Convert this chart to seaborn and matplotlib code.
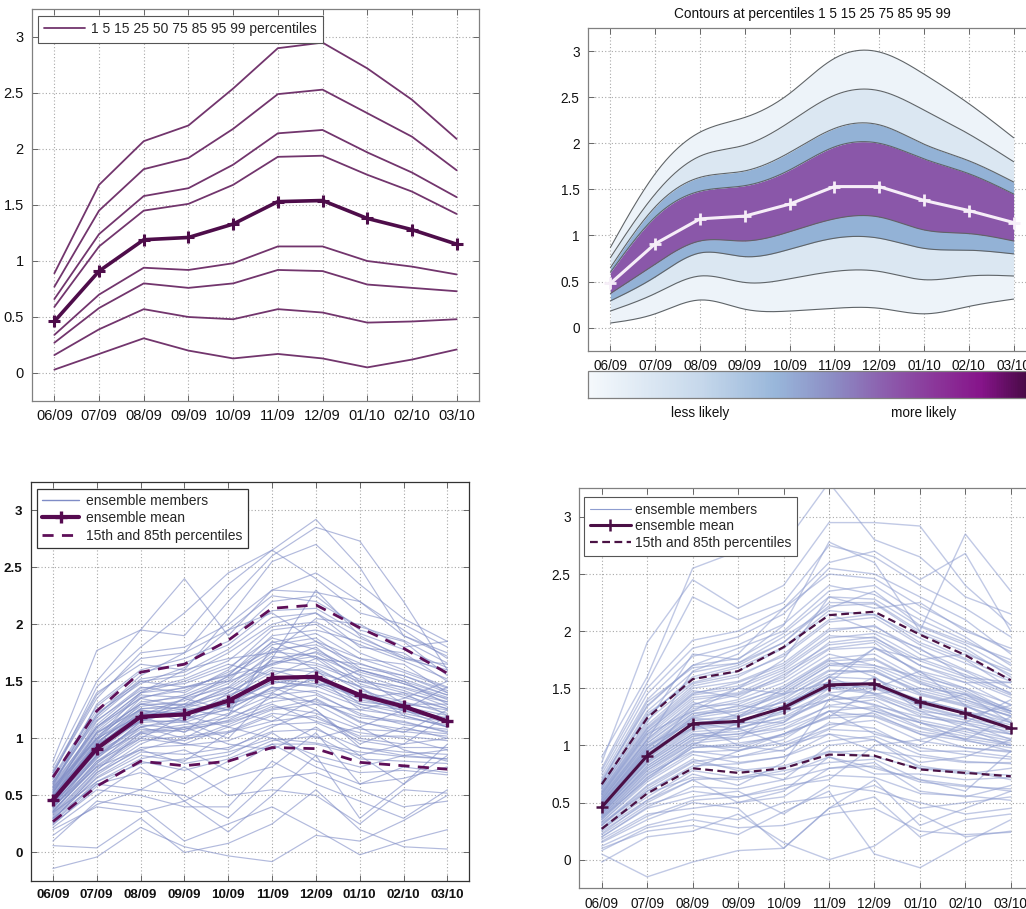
import numpy as np
import pandas as pd
import matplotlib
matplotlib.use("Agg")
import matplotlib.pyplot as plt
import seaborn as sns
from matplotlib.colors import LinearSegmentedColormap, Normalize
from matplotlib.lines import Line2D
import matplotlib.cm as cm

# ---------------- data ----------------
months = ["06/09", "07/09", "08/09", "09/09", "10/09", "11/09", "12/09", "01/10", "02/10", "03/10"]
ytick_vals = [0, 0.5, 1, 1.5, 2, 2.5, 3]
ytick_labels = ["0", "0.5", "1", "1.5", "2", "2.5", "3"]

# percentile curves (top-left panel, also used for dashed lines / mean below)
p01 = [0.03, 0.17, 0.31, 0.20, 0.13, 0.17, 0.13, 0.05, 0.12, 0.21]
p05 = [0.16, 0.39, 0.57, 0.50, 0.48, 0.57, 0.54, 0.45, 0.46, 0.48]
p15 = [0.27, 0.58, 0.80, 0.76, 0.80, 0.92, 0.91, 0.79, 0.76, 0.73]
p25 = [0.34, 0.70, 0.94, 0.92, 0.98, 1.13, 1.13, 1.00, 0.95, 0.88]
p75 = [0.59, 1.13, 1.45, 1.51, 1.68, 1.93, 1.94, 1.77, 1.62, 1.42]
p85 = [0.66, 1.24, 1.58, 1.65, 1.86, 2.14, 2.17, 1.97, 1.79, 1.57]
p95 = [0.77, 1.45, 1.82, 1.92, 2.18, 2.49, 2.53, 2.32, 2.11, 1.81]
p99 = [0.89, 1.68, 2.07, 2.21, 2.54, 2.90, 2.95, 2.72, 2.44, 2.09]
ens_mean = [0.46, 0.91, 1.19, 1.21, 1.33, 1.53, 1.54, 1.38, 1.28, 1.15]
tl_label = "1 5 15 25 50 75 85 95 99 percentiles"

# contour values (top-right panel)
c01 = [0.05, 0.15, 0.30, 0.20, 0.18, 0.21, 0.21, 0.15, 0.23, 0.31]
c05 = [0.18, 0.37, 0.56, 0.49, 0.53, 0.61, 0.61, 0.52, 0.56, 0.56]
c15 = [0.29, 0.55, 0.81, 0.77, 0.85, 0.97, 0.97, 0.86, 0.84, 0.80]
c25 = [0.37, 0.69, 0.94, 0.94, 1.04, 1.18, 1.20, 1.06, 1.02, 0.94]
c75 = [0.60, 1.20, 1.48, 1.54, 1.71, 1.96, 2.00, 1.83, 1.67, 1.45]
c85 = [0.65, 1.31, 1.63, 1.70, 1.90, 2.16, 2.20, 1.99, 1.81, 1.58]
c95 = [0.76, 1.45, 1.86, 1.98, 2.23, 2.52, 2.57, 2.36, 2.10, 1.80]
c99 = [0.87, 1.67, 2.12, 2.28, 2.54, 2.92, 2.99, 2.75, 2.43, 2.06]
c_mean = [0.48, 0.91, 1.18, 1.21, 1.34, 1.53, 1.53, 1.38, 1.27, 1.14]
tr_title = "Contours at percentiles 1 5 15 25 75 85 95 99"
cbar_labels = ["less likely", "more likely"]

# ensemble members, bottom-left panel
members_bl = [
    [-0.14, -0.04, 0.22, 0.05, -0.03, -0.08, 0.15, 0.10, 0.28, 0.50],
    [0.06, 0.04, 0.30, 0.00, 0.08, 0.25, 0.55, 0.20, 0.05, 0.03],
    [0.10, 0.45, 0.40, 0.10, 0.25, 0.40, 0.20, -0.02, 0.10, 0.20],
    [0.20, 0.40, 0.35, 0.45, 0.18, 0.50, 0.85, 0.30, 0.60, 0.85],
    [0.25, 0.55, 0.50, 0.40, 0.40, 0.80, 0.60, 0.45, 0.30, 0.55],
    [0.30, 0.60, 0.55, 0.75, 0.50, 0.55, 0.50, 0.25, 0.55, 0.52],
    [0.22, 0.50, 0.75, 0.45, 0.65, 0.75, 1.05, 0.60, 0.75, 0.70],
    [0.35, 0.62, 0.82, 0.90, 0.72, 0.95, 0.95, 0.85, 0.60, 0.95],
    [0.28, 0.70, 0.90, 0.78, 0.85, 1.05, 0.80, 0.70, 0.72, 0.68],
    [0.40, 0.75, 1.00, 0.95, 0.90, 1.10, 1.25, 0.92, 0.85, 0.82],
    [0.38, 0.85, 1.05, 1.10, 1.15, 1.30, 1.15, 1.05, 1.00, 0.90],
    [0.45, 0.88, 1.10, 1.00, 1.20, 1.45, 1.40, 1.20, 1.15, 1.05],
    [0.50, 0.92, 1.15, 1.25, 1.30, 1.40, 1.60, 1.45, 1.25, 1.10],
    [0.42, 0.95, 1.25, 1.15, 1.40, 1.60, 1.50, 1.35, 1.40, 1.20],
    [0.55, 1.00, 1.20, 1.35, 1.25, 1.70, 1.75, 1.55, 1.30, 1.25],
    [0.48, 1.05, 1.30, 1.30, 1.55, 1.65, 1.80, 1.50, 1.45, 1.35],
    [0.60, 1.10, 1.35, 1.45, 1.50, 1.85, 1.70, 1.65, 1.55, 1.40],
    [0.52, 1.15, 1.45, 1.40, 1.60, 1.95, 2.00, 1.75, 1.60, 1.45],
    [0.65, 1.25, 1.50, 1.55, 1.75, 2.00, 2.10, 1.80, 1.75, 1.50],
    [0.58, 1.30, 1.60, 1.70, 1.85, 2.20, 2.25, 1.95, 1.85, 1.55],
    [0.70, 1.35, 1.75, 1.80, 2.00, 2.30, 2.28, 2.20, 1.95, 1.70],
    [0.75, 1.50, 1.95, 1.90, 2.35, 2.65, 2.40, 2.10, 2.00, 1.80],
    [0.80, 1.77, 1.95, 2.40, 1.90, 2.30, 2.45, 2.20, 1.90, 1.75],
    [0.68, 1.45, 1.80, 2.10, 2.45, 2.65, 2.92, 2.50, 1.90, 1.72],
    [0.62, 1.20, 1.55, 1.75, 2.20, 2.60, 2.85, 2.73, 2.20, 1.60],
    [0.55, 1.10, 1.40, 1.60, 2.05, 2.55, 2.70, 2.35, 2.05, 1.85],
    [0.44, 0.90, 1.20, 1.05, 1.35, 1.70, 2.30, 1.90, 1.70, 1.65],
    [0.36, 0.80, 1.00, 1.20, 1.10, 1.25, 1.30, 1.10, 1.25, 1.45],
    [0.32, 0.70, 0.95, 1.10, 0.95, 0.90, 1.10, 0.85, 0.95, 1.20],
    [0.30, 0.65, 0.85, 0.80, 1.05, 1.20, 1.00, 1.10, 0.90, 0.80],
    [0.40, 0.78, 1.10, 1.15, 1.00, 1.40, 1.25, 0.95, 1.10, 1.00],
    [0.47, 0.95, 1.15, 1.35, 1.45, 1.35, 1.55, 1.25, 1.35, 1.50],
    [0.53, 1.05, 1.25, 1.20, 1.30, 1.50, 1.45, 1.60, 1.50, 1.30],
    [0.57, 1.00, 1.40, 1.50, 1.65, 1.55, 1.70, 1.45, 1.20, 1.10],
    [0.50, 0.95, 1.30, 1.25, 1.20, 1.80, 1.60, 1.30, 1.25, 1.15],
    [0.26, 0.60, 0.70, 0.60, 0.80, 0.95, 0.75, 0.60, 0.65, 0.75],
    [0.15, 0.42, 0.55, 0.50, 0.30, 0.65, 0.70, 0.55, 0.40, 0.45],
    [0.33, 0.72, 1.05, 0.95, 1.10, 1.00, 0.85, 0.75, 0.85, 0.90],
    [0.43, 0.82, 1.15, 1.30, 1.25, 1.15, 1.35, 1.15, 1.05, 1.25],
    [0.49, 0.98, 1.35, 1.28, 1.45, 1.75, 1.85, 1.70, 1.65, 1.40],
    [0.60, 1.18, 1.50, 1.45, 1.55, 1.90, 1.95, 1.85, 1.70, 1.60],
    [0.72, 1.40, 1.65, 1.60, 1.70, 1.75, 2.05, 2.00, 1.80, 1.85],
    [0.64, 1.22, 1.48, 1.62, 1.95, 2.10, 1.85, 1.60, 1.50, 1.38],
    [0.37, 0.75, 0.90, 1.00, 1.05, 1.15, 1.20, 1.00, 0.95, 1.00],
    [0.45, 0.85, 1.10, 1.18, 1.25, 1.45, 1.30, 1.25, 1.20, 1.10],
    [0.41, 0.86, 1.12, 1.08, 1.22, 1.38, 1.42, 1.28, 1.18, 1.12],
    [0.46, 0.93, 1.22, 1.20, 1.36, 1.58, 1.62, 1.42, 1.32, 1.22],
    [0.51, 1.02, 1.28, 1.33, 1.48, 1.72, 1.66, 1.52, 1.42, 1.28],
    [0.39, 0.80, 1.06, 1.12, 1.18, 1.32, 1.38, 1.22, 1.12, 1.08],
    [0.56, 1.08, 1.38, 1.36, 1.52, 1.82, 1.88, 1.62, 1.55, 1.42],
    [0.34, 0.73, 0.98, 1.02, 1.06, 1.22, 1.18, 1.02, 1.02, 0.98],
    [0.62, 1.16, 1.42, 1.52, 1.68, 1.98, 2.02, 1.82, 1.68, 1.52],
    [0.29, 0.66, 0.88, 0.86, 0.92, 1.06, 1.08, 0.92, 0.88, 0.86],
    [0.44, 0.90, 1.18, 1.24, 1.32, 1.48, 1.55, 1.34, 1.26, 1.18],
    [0.53, 0.99, 1.26, 1.27, 1.42, 1.66, 1.72, 1.48, 1.36, 1.26],
    [0.48, 0.94, 1.20, 1.26, 1.38, 1.52, 1.48, 1.40, 1.30, 1.30],
    [0.58, 1.12, 1.44, 1.48, 1.62, 1.88, 1.78, 1.58, 1.48, 1.34],
    [0.36, 0.76, 1.02, 0.98, 1.12, 1.28, 1.22, 1.08, 1.06, 1.02],
    [0.42, 0.84, 1.14, 1.16, 1.28, 1.50, 1.46, 1.30, 1.22, 1.14],
    [0.66, 1.28, 1.58, 1.66, 1.82, 2.12, 2.14, 1.92, 1.78, 1.62],
    [0.24, 0.58, 0.80, 0.72, 0.82, 0.98, 1.02, 0.82, 0.80, 0.78],
    [0.50, 1.00, 1.32, 1.36, 1.50, 1.64, 1.76, 1.60, 1.48, 1.36],
    [0.45, 0.92, 1.24, 1.22, 1.30, 1.42, 1.52, 1.36, 1.24, 1.16],
    [0.61, 1.20, 1.52, 1.58, 1.78, 2.06, 2.10, 1.88, 1.72, 1.58],
    [0.31, 0.68, 0.92, 0.94, 0.98, 1.12, 1.14, 0.98, 0.92, 0.92],
    [0.54, 1.06, 1.36, 1.42, 1.58, 1.78, 1.82, 1.66, 1.52, 1.38],
    [0.40, 0.83, 1.08, 1.06, 1.16, 1.36, 1.32, 1.18, 1.14, 1.06],
    [0.47, 0.96, 1.26, 1.30, 1.40, 1.62, 1.58, 1.46, 1.38, 1.26],
    [0.70, 1.38, 1.70, 1.75, 1.95, 2.25, 2.20, 1.98, 1.86, 1.66],
    [0.27, 0.62, 0.78, 0.82, 0.88, 1.00, 0.96, 0.88, 0.84, 0.82],
    [0.52, 1.04, 1.30, 1.38, 1.54, 1.76, 1.72, 1.56, 1.44, 1.32],
    [0.43, 0.88, 1.16, 1.14, 1.26, 1.44, 1.48, 1.32, 1.28, 1.20],
    [0.57, 1.10, 1.40, 1.44, 1.56, 1.84, 1.92, 1.70, 1.58, 1.44],
    [0.35, 0.78, 1.04, 1.08, 1.14, 1.26, 1.34, 1.14, 1.08, 1.04],
    [0.49, 0.97, 1.22, 1.28, 1.44, 1.68, 1.64, 1.50, 1.40, 1.32],
]

# ensemble members, bottom-right panel
members_br = [
    [0.05, -0.15, -0.02, 0.08, 0.10, 0.45, 0.55, 0.20, 0.35, 0.40],
    [-0.02, 0.20, 0.25, 0.40, 0.15, 0.00, 0.12, 0.40, 0.20, 0.25],
    [0.10, 0.25, 0.30, 0.22, 0.42, 0.60, 0.05, -0.07, 0.15, 0.35],
    [0.15, 0.35, 0.50, 0.45, 0.10, 0.45, 0.70, 0.30, 0.45, 0.60],
    [0.20, 0.45, 0.55, 0.60, 0.40, 0.65, 0.60, 0.50, 0.40, 0.45],
    [0.25, 0.50, 0.70, 0.50, 0.55, 0.80, 0.85, 0.60, 0.55, 0.65],
    [0.28, 0.55, 0.78, 0.72, 0.75, 0.90, 0.75, 0.75, 0.70, 0.72],
    [0.30, 0.62, 0.85, 0.80, 0.70, 1.00, 1.05, 0.80, 0.75, 0.80],
    [0.33, 0.68, 0.92, 0.85, 0.90, 1.10, 0.95, 0.90, 0.85, 0.85],
    [0.35, 0.72, 0.98, 1.00, 0.95, 1.20, 1.15, 0.95, 0.95, 0.90],
    [0.38, 0.78, 1.02, 0.95, 1.05, 1.30, 1.25, 1.10, 0.98, 0.95],
    [0.40, 0.82, 1.08, 1.10, 1.15, 1.35, 1.40, 1.20, 1.10, 1.00],
    [0.42, 0.86, 1.12, 1.15, 1.25, 1.45, 1.35, 1.25, 1.20, 1.05],
    [0.44, 0.88, 1.15, 1.20, 1.20, 1.50, 1.55, 1.35, 1.25, 1.10],
    [0.46, 0.92, 1.18, 1.25, 1.35, 1.55, 1.50, 1.40, 1.30, 1.15],
    [0.48, 0.95, 1.22, 1.18, 1.40, 1.65, 1.65, 1.45, 1.35, 1.20],
    [0.50, 0.98, 1.28, 1.30, 1.45, 1.70, 1.75, 1.55, 1.40, 1.25],
    [0.52, 1.02, 1.32, 1.40, 1.55, 1.80, 1.70, 1.60, 1.50, 1.30],
    [0.55, 1.08, 1.40, 1.45, 1.60, 1.90, 1.95, 1.70, 1.55, 1.35],
    [0.58, 1.12, 1.45, 1.55, 1.70, 2.00, 2.05, 1.80, 1.65, 1.45],
    [0.60, 1.18, 1.52, 1.60, 1.80, 2.10, 2.15, 1.90, 1.75, 1.50],
    [0.65, 1.25, 1.60, 1.70, 1.90, 2.25, 2.25, 2.00, 1.85, 1.60],
    [0.70, 1.35, 1.70, 1.85, 2.00, 2.35, 2.40, 2.15, 1.95, 1.70],
    [0.75, 1.45, 1.85, 1.95, 2.15, 2.55, 2.50, 2.30, 2.10, 1.80],
    [0.80, 1.55, 2.30, 2.10, 2.25, 2.75, 2.65, 2.40, 2.20, 1.95],
    [0.85, 1.90, 2.45, 2.20, 2.40, 2.95, 2.95, 2.92, 2.40, 2.05],
    [0.90, 1.60, 2.55, 2.70, 2.75, 3.30, 2.80, 2.65, 2.30, 2.15],
    [0.62, 1.20, 1.80, 1.75, 2.05, 2.78, 2.60, 2.00, 2.85, 2.35],
    [0.55, 1.05, 1.65, 1.80, 2.20, 2.60, 2.70, 2.45, 2.68, 2.00],
    [0.45, 0.90, 1.35, 1.50, 1.75, 2.30, 2.20, 2.25, 2.00, 1.85],
    [0.37, 0.70, 1.00, 1.20, 1.30, 1.60, 1.85, 1.75, 1.80, 1.65],
    [0.32, 0.60, 0.80, 0.95, 1.10, 1.25, 1.50, 1.65, 1.55, 1.55],
    [0.27, 0.52, 0.75, 0.65, 0.85, 1.40, 1.30, 1.20, 1.05, 1.25],
    [0.22, 0.48, 0.60, 0.55, 0.65, 0.70, 1.00, 1.05, 1.15, 1.10],
    [0.18, 0.40, 0.45, 0.50, 0.60, 0.90, 0.80, 0.70, 0.60, 0.95],
    [0.12, 0.30, 0.40, 0.35, 0.50, 0.55, 0.65, 0.45, 0.50, 0.55],
    [0.08, 0.28, 0.35, 0.28, 0.30, 0.40, 0.45, 0.25, 0.22, 0.24],
    [0.50, 1.00, 1.20, 1.00, 1.10, 1.30, 1.10, 1.00, 1.20, 1.40],
    [0.47, 0.94, 1.25, 1.35, 1.30, 1.40, 1.60, 1.30, 1.15, 1.00],
    [0.43, 0.85, 1.10, 1.05, 1.35, 1.60, 1.45, 1.50, 1.45, 1.30],
    [0.53, 1.05, 1.38, 1.25, 1.50, 1.75, 1.60, 1.35, 1.45, 1.20],
    [0.57, 1.10, 1.30, 1.50, 1.45, 1.55, 1.85, 1.65, 1.35, 1.15],
    [0.41, 0.80, 1.05, 1.15, 1.00, 1.15, 1.30, 1.15, 1.05, 0.95],
    [0.36, 0.75, 0.95, 0.90, 1.00, 1.10, 1.05, 0.85, 0.90, 1.05],
    [0.49, 0.96, 1.15, 1.28, 1.38, 1.50, 1.45, 1.30, 1.25, 1.35],
    [0.63, 1.28, 1.55, 1.65, 1.85, 2.15, 2.00, 1.85, 1.60, 1.55],
    [0.68, 1.38, 1.68, 1.72, 1.95, 2.20, 2.35, 2.05, 1.90, 1.75],
    [0.31, 0.65, 0.88, 0.78, 0.82, 0.95, 0.90, 0.80, 0.78, 0.70],
    [0.26, 0.58, 0.72, 0.70, 0.78, 0.85, 0.88, 0.70, 0.65, 0.60],
    [0.59, 1.15, 1.48, 1.42, 1.62, 1.85, 1.90, 1.62, 1.48, 1.28],
    [0.42, 0.84, 1.10, 1.12, 1.22, 1.40, 1.44, 1.26, 1.18, 1.10],
    [0.47, 0.95, 1.22, 1.26, 1.38, 1.60, 1.58, 1.44, 1.34, 1.22],
    [0.52, 1.04, 1.34, 1.36, 1.52, 1.76, 1.80, 1.58, 1.46, 1.32],
    [0.38, 0.76, 1.02, 1.06, 1.14, 1.30, 1.34, 1.16, 1.08, 1.02],
    [0.57, 1.12, 1.44, 1.50, 1.66, 1.94, 1.98, 1.76, 1.62, 1.46],
    [0.33, 0.70, 0.94, 0.96, 1.02, 1.18, 1.22, 1.04, 0.98, 0.94],
    [0.62, 1.22, 1.54, 1.62, 1.78, 2.08, 2.12, 1.88, 1.72, 1.56],
    [0.28, 0.60, 0.82, 0.84, 0.90, 1.04, 1.08, 0.92, 0.86, 0.84],
    [0.45, 0.90, 1.16, 1.22, 1.32, 1.50, 1.52, 1.36, 1.28, 1.18],
    [0.54, 1.06, 1.36, 1.44, 1.58, 1.84, 1.86, 1.64, 1.50, 1.36],
    [0.40, 0.80, 1.06, 1.10, 1.20, 1.44, 1.36, 1.22, 1.14, 1.06],
    [0.50, 0.98, 1.26, 1.32, 1.46, 1.70, 1.68, 1.50, 1.40, 1.28],
    [0.66, 1.30, 1.64, 1.72, 1.90, 2.22, 2.24, 1.98, 1.82, 1.62],
    [0.23, 0.52, 0.70, 0.72, 0.80, 0.94, 0.96, 0.82, 0.76, 0.74],
    [0.44, 0.88, 1.20, 1.14, 1.30, 1.52, 1.46, 1.32, 1.22, 1.14],
    [0.48, 0.93, 1.18, 1.24, 1.42, 1.62, 1.66, 1.46, 1.36, 1.26],
    [0.60, 1.16, 1.50, 1.56, 1.72, 2.02, 2.04, 1.84, 1.66, 1.50],
    [0.35, 0.72, 0.98, 1.02, 1.08, 1.26, 1.28, 1.10, 1.04, 0.98],
    [0.72, 1.40, 1.78, 1.88, 2.06, 2.40, 2.32, 2.10, 1.92, 1.72],
    [0.30, 0.64, 0.86, 0.90, 0.96, 1.14, 1.12, 0.98, 0.92, 0.88],
    [0.53, 1.02, 1.30, 1.38, 1.50, 1.74, 1.76, 1.56, 1.44, 1.30],
    [0.41, 0.82, 1.08, 1.16, 1.24, 1.40, 1.42, 1.28, 1.20, 1.12],
    [0.46, 0.91, 1.24, 1.20, 1.34, 1.56, 1.54, 1.40, 1.30, 1.20],
    [0.56, 1.10, 1.42, 1.46, 1.64, 1.88, 1.92, 1.70, 1.58, 1.42],
    [0.20, 0.46, 0.64, 0.62, 0.70, 0.80, 0.82, 0.68, 0.64, 0.62],
    [0.64, 1.26, 1.58, 1.68, 1.86, 2.18, 2.14, 1.94, 1.76, 1.58],
    [0.37, 0.74, 1.00, 0.98, 1.10, 1.24, 1.26, 1.12, 1.06, 1.00],
    [0.51, 1.00, 1.28, 1.34, 1.48, 1.72, 1.70, 1.54, 1.42, 1.30],
    [0.43, 0.86, 1.14, 1.18, 1.28, 1.46, 1.50, 1.34, 1.24, 1.16],
    [0.78, 1.50, 1.92, 2.00, 2.20, 2.50, 2.46, 2.22, 2.02, 1.82],
    [0.16, 0.38, 0.52, 0.55, 0.62, 0.74, 0.72, 0.58, 0.56, 0.52],
    [0.58, 1.14, 1.46, 1.52, 1.68, 1.96, 1.94, 1.74, 1.60, 1.44],
    [0.39, 0.78, 1.04, 1.08, 1.18, 1.34, 1.32, 1.20, 1.12, 1.04],
    [0.49, 0.97, 1.24, 1.30, 1.44, 1.66, 1.64, 1.48, 1.38, 1.26],
    [0.68, 1.34, 1.70, 1.76, 1.98, 2.30, 2.28, 2.04, 1.88, 1.66],
]
legend_bottom = ["ensemble members", "ensemble mean", "15th and 85th percentiles"]

# ---------------- style ----------------
sns.set_theme(style="white")
plt.rcParams["font.family"] = ["Liberation Sans", "DejaVu Sans"]

W, H = 1026, 909
fig = plt.figure(figsize=(W / 100, H / 100), dpi=100)
fig.patch.set_facecolor("white")


def px_axes(left, top, right, bottom):
    return fig.add_axes([left / W, 1 - bottom / H, (right - left) / W, (bottom - top) / H])


def style_ax(ax, fs, bold=False):
    fw = "bold" if bold else "normal"
    ax.set_xlim(-0.5, 9.5)
    ax.set_ylim(-0.25, 3.25)
    ax.set_xticks(range(len(months)))
    ax.set_xticklabels(months, fontsize=fs, fontweight=fw)
    ax.set_yticks(ytick_vals)
    ax.set_yticklabels(ytick_labels, fontsize=fs, fontweight=fw)
    ax.grid(True, linestyle=(0, (1, 2)), color="#a8a8a8", linewidth=0.8)
    ax.set_axisbelow(True)
    ax.tick_params(direction="in", bottom=True, left=True, top=True, right=True,
                   length=4, width=0.7, color="#666666", labelcolor="#111111", pad=6)
    for s in ax.spines.values():
        s.set_color("#808080")
        s.set_linewidth(0.9)
    ax.set_xlabel("")
    ax.set_ylabel("")


def long_df(series_list, names):
    rows = []
    for name, vals in zip(names, series_list):
        for i, v in enumerate(vals):
            rows.append({"t": i, "v": v, "id": name})
    return pd.DataFrame(rows)


def natural_spline(y, n=300):
    y = np.asarray(y, dtype=float)
    k = len(y)
    A = np.zeros((k, k))
    b = np.zeros(k)
    A[0, 0] = 1
    A[-1, -1] = 1
    for i in range(1, k - 1):
        A[i, i - 1] = 1
        A[i, i] = 4
        A[i, i + 1] = 1
        b[i] = 6 * (y[i + 1] - 2 * y[i] + y[i - 1])
    M = np.linalg.solve(A, b)
    xs = np.linspace(0, k - 1, n)
    seg = np.clip(np.floor(xs).astype(int), 0, k - 2)
    t = xs - seg
    ys = ((1 - t) * y[seg] + t * y[seg + 1]
          + ((1 - t) ** 3 - (1 - t)) * M[seg] / 6 + (t ** 3 - t) * M[seg + 1] / 6)
    return xs, ys


idx = np.arange(len(months))

# ---------------- top-left ----------------
ax1 = px_axes(32, 9, 479, 401)
pct_series = [p01, p05, p15, p25, p75, p85, p95, p99]
df_tl = long_df(pct_series, ["p01", "p05", "p15", "p25", "p75", "p85", "p95", "p99"])
line_col = "#72356d"
sns.lineplot(data=df_tl, x="t", y="v", units="id", estimator=None, color=line_col,
             lw=1.3, ax=ax1, legend=False)
sns.lineplot(x=idx, y=ens_mean, color="#4e0d4a", lw=2.6, marker="+", markersize=9,
             markeredgewidth=2.2, markeredgecolor="#4e0d4a", ax=ax1, legend=False)
style_ax(ax1, 10.5)
ax1.legend(handles=[Line2D([], [], color=line_col, lw=1.3)], labels=[tl_label],
           loc="upper left", bbox_to_anchor=(6 / 447, 1 - 7 / 392), borderaxespad=0,
           fontsize=10, frameon=True, fancybox=False, edgecolor="#555555", framealpha=1,
           handlelength=2.9, handletextpad=0.5, borderpad=0.45)
ax1.get_legend().get_frame().set_linewidth(0.8)

# ---------------- top-right ----------------
ax2 = px_axes(588, 28, 1036, 350.7)
band_sets = [c01, c05, c15, c25, c75, c85, c95, c99]
smooth = [natural_spline(s) for s in band_sets]
band_colors = ["#edf3f9", "#dbe7f2", "#93b2d6", "#8a57a9", "#93b2d6", "#dbe7f2", "#edf3f9"]
for j in range(len(smooth) - 1):
    ax2.fill_between(smooth[j][0], smooth[j][1], smooth[j + 1][1],
                     color=band_colors[j], linewidth=0, zorder=2)
df_tr = pd.DataFrame([{"t": x, "v": v, "id": k}
                      for k, (xs, ys) in enumerate(smooth) for x, v in zip(xs, ys)])
sns.lineplot(data=df_tr, x="t", y="v", units="id", estimator=None, color="#5f6468",
             lw=0.8, ax=ax2, legend=False, zorder=3)
sns.lineplot(x=idx, y=c_mean, color="#f6eef8", lw=2.2, marker="+", markersize=8,
             markeredgewidth=2, markeredgecolor="#f6eef8", ax=ax2, legend=False, zorder=4)
style_ax(ax2, 9.8)
ax2.set_title(tr_title, fontsize=9.8, pad=7, color="#111111")

cax = px_axes(588, 371, 1036, 397.7)
cmap = LinearSegmentedColormap.from_list(
    "likely", [(0.0, "#f5f9fc"), (0.25, "#c6d8eb"), (0.42, "#98b6da"), (0.55, "#8c8cc4"),
               (0.66, "#8c5fae"), (0.78, "#8b3599"), (0.88, "#86148a"), (1.0, "#3c0838")])
cb = fig.colorbar(cm.ScalarMappable(norm=Normalize(0, 1), cmap=cmap), cax=cax,
                  orientation="horizontal")
cb.set_ticks([0.25, 0.75])
cb.set_ticklabels(cbar_labels)
cax.tick_params(direction="in", length=4, width=0.7, color="#666666", labelsize=9.8,
                labelcolor="#111111", pad=6, top=True, bottom=True)
cb.outline.set_edgecolor("#808080")
cb.outline.set_linewidth(0.9)

# ---------------- bottom-left ----------------
ax3 = px_axes(31, 481.7, 469.3, 881)
mem_col_bl = "#7f8cc6"
df_bl = long_df(members_bl, list(range(len(members_bl))))
sns.lineplot(data=df_bl, x="t", y="v", units="id", estimator=None, color=mem_col_bl,
             lw=0.85, alpha=0.6, ax=ax3, legend=False)
dash_col = "#5e0f58"
sns.lineplot(x=idx, y=p85, color=dash_col, lw=2.0, ax=ax3, legend=False)
sns.lineplot(x=idx, y=p15, color=dash_col, lw=2.0, ax=ax3, legend=False)
for ln in ax3.get_lines()[-2:]:
    ln.set_dashes((4, 3))
sns.lineplot(x=idx, y=ens_mean, color="#560a50", lw=3.0, marker="+", markersize=9,
             markeredgewidth=2.4, markeredgecolor="#560a50", ax=ax3, legend=False)
style_ax(ax3, 9.6, bold=True)
for s in ax3.spines.values():
    s.set_color("#333333")
ax3.legend(handles=[Line2D([], [], color=mem_col_bl, lw=1.0),
                    Line2D([], [], color="#560a50", lw=3.0, marker="+", markersize=9,
                           markeredgewidth=2.4),
                    Line2D([], [], color=dash_col, lw=2.0, dashes=(4, 3))],
           labels=legend_bottom, loc="upper left", bbox_to_anchor=(6 / 438, 1 - 7.3 / 399),
           borderaxespad=0, fontsize=10, frameon=True, fancybox=False, edgecolor="#333333",
           framealpha=1, handlelength=2.7, handletextpad=0.5, borderpad=0.35,
           labelspacing=0.25)
ax3.get_legend().get_frame().set_linewidth(0.9)

# ---------------- bottom-right ----------------
ax4 = px_axes(579, 488.3, 1033.5, 888.3)
mem_col_br = "#8e9dd0"
df_br = long_df(members_br, list(range(len(members_br))))
sns.lineplot(data=df_br, x="t", y="v", units="id", estimator=None, color=mem_col_br,
             lw=1.0, alpha=0.55, ax=ax4, legend=False)
sns.lineplot(x=idx, y=p85, color="#4a1244", lw=1.6, ax=ax4, legend=False)
sns.lineplot(x=idx, y=p15, color="#4a1244", lw=1.6, ax=ax4, legend=False)
for ln in ax4.get_lines()[-2:]:
    ln.set_dashes((3.5, 2))
sns.lineplot(x=idx, y=ens_mean, color="#4a0f45", lw=2.2, marker="+", markersize=9,
             markeredgewidth=1.8, markeredgecolor="#4a0f45", ax=ax4, legend=False)
style_ax(ax4, 9.8)
ax4.legend(handles=[Line2D([], [], color=mem_col_br, lw=0.8),
                    Line2D([], [], color="#4a0f45", lw=2.2, marker="+", markersize=9,
                           markeredgewidth=1.8),
                    Line2D([], [], color="#4a1244", lw=1.6, dashes=(3.5, 2))],
           labels=legend_bottom, loc="upper left", bbox_to_anchor=(5 / 454.5, 1 - 8.7 / 400),
           borderaxespad=0, fontsize=10, frameon=True, fancybox=False, edgecolor="#555555",
           framealpha=1, handlelength=3.0, handletextpad=0.3, borderpad=0.4,
           labelspacing=0.2)
ax4.get_legend().get_frame().set_linewidth(0.8)

fig.savefig("out.png", dpi=100, facecolor="white")
